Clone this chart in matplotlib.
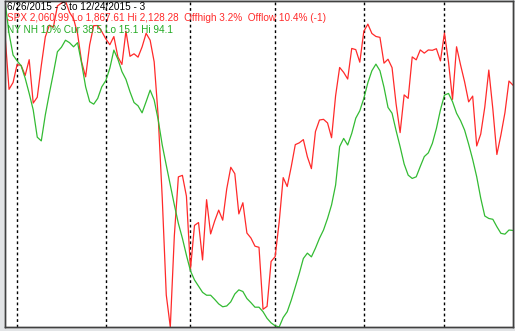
import numpy as np
import matplotlib.pyplot as plt

# SPX daily closes, 6/26/2015 .. 12/24/2015
spx = [2101.49, 2057.64, 2063.11,
       2077.42, 2076.78, 2068.76, 2081.34, 2046.68, 2051.31, 2076.62, 2099.60, 2108.95, 2107.40,
       2124.29, 2126.64, 2128.28, 2119.21, 2114.15, 2102.15, 2079.65, 2067.64, 2093.25, 2108.57,
       2108.63, 2103.84,
       2098.04, 2093.32, 2099.84, 2083.56, 2077.57, 2104.18, 2084.07, 2086.05, 2083.39, 2091.54,
       2102.44, 2096.92, 2079.61, 2035.73, 1970.89, 1893.21, 1867.61, 1940.51, 1987.66, 1988.87,
       1972.18,
       1913.85, 1948.86, 1951.13, 1921.22, 1969.41, 1942.04, 1952.29, 1961.05, 1953.03, 1978.09,
       1995.31, 1990.20, 1958.03, 1966.97, 1942.74, 1938.76, 1932.24, 1931.34, 1881.77, 1884.09,
       1920.03,
       1923.82, 1951.36, 1987.05, 1979.92, 1995.83, 2013.43, 2014.89, 2017.46, 2003.69, 1994.24,
       2023.86, 2033.11, 2033.66, 2030.77, 2018.94, 2052.51, 2075.15, 2071.18, 2065.89, 2090.35,
       2089.41, 2079.36,
       2104.05, 2109.79, 2102.31, 2099.93, 2099.20, 2078.58, 2081.72, 2075.00, 2045.97, 2023.04,
       2053.19, 2050.44, 2083.58, 2081.24, 2089.17, 2086.59, 2089.14, 2088.87, 2090.11, 2080.41,
       2102.63, 2079.51, 2049.62, 2091.69, 2077.07, 2063.59, 2047.62, 2052.23, 2012.37, 2021.94,
       2043.41, 2073.07, 2041.89, 2005.55, 2021.15, 2038.97, 2064.29, 2060.99]

# NY new highs 10%
nh = [94.1, 86.3, 81.0, 79.6, 78.4, 75.4, 71.7, 67.7, 61.1, 60.2,
      66.5, 71.7, 76.6, 81.8, 82.9, 84.6, 84.0, 83.0, 84.0, 79.0,
      73.3, 69.7, 69.1, 70.5, 73.3, 74.8, 77.8, 82.2, 80.0, 77.0,
      75.1, 72.1, 69.5, 68.7, 67.0, 69.7, 72.5, 70.1, 65.3, 59.2,
      54.3, 49.5, 44.7, 40.2, 36.6, 32.5, 28.7, 26.5, 25.0, 23.5,
      22.8, 22.8, 21.8, 20.7, 20.0, 20.2, 21.2, 23.1, 24.1, 23.7,
      22.0, 21.0, 19.9, 19.9, 18.8, 17.2, 16.1, 15.4, 15.1, 17.4,
      18.8, 21.6, 24.8, 28.1, 31.7, 33.0, 32.1, 34.2, 36.6, 38.6,
      41.4, 44.7, 49.5, 58.8, 60.8, 59.2, 62.0, 65.7, 67.5, 70.5,
      74.3, 77.2, 78.8, 77.2, 73.2, 68.3, 66.9, 62.7, 58.8, 54.6,
      51.9, 51.1, 51.5, 54.0, 56.4, 57.3, 59.6, 63.2, 67.7, 71.3,
      71.7, 69.7, 66.9, 65.1, 62.8, 59.4, 55.7, 51.5, 46.3, 42.0,
      41.4, 41.2, 39.4, 37.8, 37.6, 38.6, 38.5]

# first trading day of each month (index)
month_starts = [3, 25, 46, 67, 89, 109]

title = "6/26/2015 - 3 to 12/24/2015 - 3"
spx_label = "SPX 2,060.99 Lo 1,867.61 Hi 2,128.28  Offhigh 3.2%  Offlow 10.4% (-1)"
nh_label = "NY NH 10% Cur 38.5 Lo 15.1 Hi 94.1"

W, H = 515, 331
fig = plt.figure(figsize=(W / 100, H / 100), dpi=100, facecolor='#e2e4e6')
ax = fig.add_axes([5 / W, 4 / H, 508 / W, 326 / H])
ax.set_facecolor('white')
x = np.arange(len(spx))

for m in month_starts:
    ax.axvline(m, color='black', lw=1, ls=(0, (2, 2)))

ax.plot(x, spx, color='#ff2a2a', lw=0.9)
ax.set_ylim(min(spx), max(spx))
ax.set_xlim(0, len(spx) - 1)

ax2 = ax.twinx()
ax2.plot(x, nh, color='#33bb33', lw=0.9)
ax2.set_ylim(min(nh), max(nh))

for a in (ax, ax2):
    a.set_xticks([])
    a.set_yticks([])
    for s in a.spines.values():
        s.set_color('#404040')
        s.set_linewidth(1)

fs = 7.2
fig.text(7 / W, 1 - 7 / H, title, color='black', fontsize=fs, va='center', family='Liberation Sans')
fig.text(7 / W, 1 - 18 / H, spx_label, color='#ff2a2a', fontsize=fs, va='center', family='Liberation Sans')
fig.text(7 / W, 1 - 30 / H, nh_label, color='#22aa22', fontsize=fs, va='center', family='Liberation Sans')

fig.savefig('out.png', dpi=100, facecolor=fig.get_facecolor())
